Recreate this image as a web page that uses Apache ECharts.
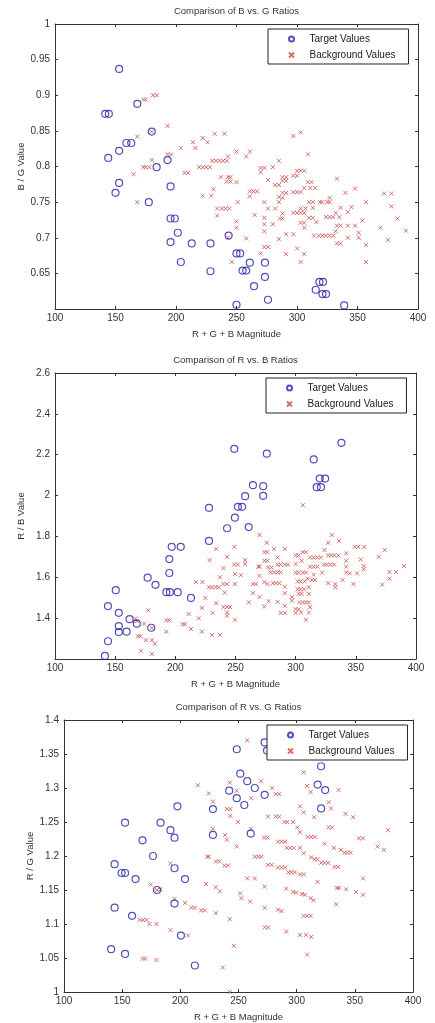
<!DOCTYPE html>
<html>
<head>
<meta charset="utf-8">
<title>Comparison of colour ratios</title>
<script src="https://cdn.jsdelivr.net/npm/echarts@6.0.0/dist/echarts.min.js"></script>
<style>
  html, body { margin: 0; padding: 0; background: #fff; }
  #chart { width: 435px; height: 1023px; }
</style>
</head>
<body>
<div id="chart"></div>
<script>
// x axis (R + G + B magnitude): min, max, step
const magnitudeAxis = [100, 400, 50];
// y axes: min, max, step
const bgAxis = [0.6, 1, 0.05];
const rbAxis = [1.2, 2.6, 0.2];
const rgAxis = [1, 1.4, 0.05];

// B / G ratio  [magnitude, ratio]
const bgTarget = [
  [153, 0.937], [168, 0.888], [141.5, 0.874], [144.5, 0.874], [180, 0.849], [159, 0.833], [163, 0.833],
  [153, 0.822], [144, 0.812], [193, 0.809], [184, 0.799], [153, 0.777], [150, 0.763], [195.5, 0.772],
  [177.5, 0.750], [195.5, 0.727], [199, 0.727], [201.5, 0.707], [195.5, 0.694], [213, 0.692], [228.5, 0.692],
  [243.5, 0.703], [250, 0.678], [253, 0.678], [204, 0.666], [228.5, 0.653], [255, 0.654], [258, 0.654],
  [261, 0.665], [273.5, 0.665], [273.5, 0.645], [264.5, 0.632], [276, 0.613], [250, 0.606], [318.5, 0.638],
  [321.5, 0.638], [315.5, 0.627], [321, 0.621], [324, 0.621], [339, 0.605]
];
const bgBackground = [
  [173, 0.894], [175, 0.894], [181, 0.900], [184, 0.900], [193, 0.857], [168, 0.842], [180, 0.849],
  [204, 0.826], [214, 0.834], [216, 0.826], [222, 0.840], [226, 0.834], [232, 0.846], [240, 0.846],
  [250, 0.821], [258, 0.814], [261, 0.821], [180, 0.809], [193, 0.817], [196, 0.817],
  [173, 0.799], [175, 0.799], [178, 0.799], [165, 0.789], [168, 0.750], [207, 0.791], [210, 0.791],
  [219, 0.799], [222, 0.799], [225, 0.799], [228, 0.799], [230, 0.808], [233, 0.808], [236, 0.808],
  [239, 0.808], [242, 0.808], [243, 0.814], [237, 0.785], [243, 0.785], [245, 0.785], [242, 0.779],
  [245, 0.779], [250, 0.778], [231, 0.768], [222, 0.759], [229, 0.759], [234, 0.741], [238, 0.741],
  [241, 0.741], [244, 0.741], [234, 0.731], [251, 0.750], [250, 0.723], [250, 0.714], [243, 0.700],
  [246, 0.666], [265, 0.732], [258, 0.699], [270, 0.798], [273, 0.798], [270, 0.792], [280, 0.799],
  [285, 0.808], [276, 0.781], [282, 0.774], [285, 0.774], [288, 0.785], [291, 0.785], [288, 0.780],
  [291, 0.780], [297, 0.843], [303, 0.848], [309, 0.817], [297, 0.787], [300, 0.787], [300, 0.794],
  [303, 0.794], [306, 0.794], [297, 0.764], [300, 0.764], [303, 0.764], [306, 0.770], [309, 0.778],
  [312, 0.778], [311, 0.770], [315, 0.770], [333, 0.783], [261, 0.765], [264, 0.765], [267, 0.765],
  [261, 0.758], [273, 0.750], [276, 0.741], [285, 0.750], [285, 0.757], [282, 0.741], [288, 0.763],
  [291, 0.763], [288, 0.756], [288, 0.734], [286, 0.727], [288, 0.727], [297, 0.735], [300, 0.735],
  [303, 0.735], [306, 0.735], [303, 0.741], [307, 0.741], [310, 0.750], [313, 0.750], [319, 0.750],
  [321, 0.750], [325, 0.750], [327, 0.750], [327, 0.756], [313, 0.742], [310, 0.728], [313, 0.728],
  [303, 0.721], [306, 0.721], [306, 0.714], [316, 0.722], [324, 0.729], [327, 0.729], [330, 0.729],
  [332, 0.735], [335, 0.729], [333, 0.717], [336, 0.717], [342, 0.717], [348, 0.717], [336, 0.742],
  [340, 0.763], [348, 0.769], [342, 0.736], [345, 0.743], [357, 0.750], [354, 0.724], [351, 0.707],
  [351, 0.700], [357, 0.690], [357, 0.666], [314, 0.703], [318, 0.703], [321, 0.703], [324, 0.703],
  [327, 0.703], [330, 0.703], [332, 0.709], [333, 0.692], [336, 0.692], [342, 0.700], [372, 0.762],
  [378, 0.762], [378, 0.744], [383, 0.727], [390, 0.710], [369, 0.714], [375, 0.697], [297, 0.705],
  [291, 0.705], [285, 0.698], [291, 0.677], [306, 0.677], [303, 0.666], [300, 0.685], [273, 0.719],
  [273, 0.709], [270, 0.678], [273, 0.687], [276, 0.687], [280, 0.719], [273, 0.728]
];

// R / B ratio
const rbTarget = [
  [249, 2.229], [276, 2.205], [315, 2.177], [338, 2.258], [320, 2.083], [324.5, 2.083], [317.5, 2.041],
  [321, 2.041], [264.5, 2.051], [273, 2.046], [273, 1.999], [258, 1.997], [252, 1.945], [255.5, 1.945],
  [228, 1.940], [249.5, 1.892], [243, 1.840], [261, 1.846], [228, 1.778], [197, 1.749], [204.5, 1.749],
  [195, 1.689], [195, 1.621], [177, 1.598], [183.5, 1.563], [192.5, 1.527], [195.5, 1.527], [202, 1.527],
  [213, 1.499], [150.5, 1.537], [144, 1.459], [153, 1.426], [162, 1.395], [168, 1.373], [153, 1.361],
  [153, 1.332], [159.5, 1.334], [180, 1.353], [144, 1.287], [141.5, 1.215]
];
const rbBackground = [
  [306, 1.953], [270, 1.807], [276, 1.769], [234, 1.739], [249, 1.749], [330, 1.807], [336, 1.778],
  [327, 1.769], [324, 1.733], [349, 1.749], [352, 1.749], [357, 1.749], [374, 1.733], [369, 1.700],
  [228.5, 1.684], [243, 1.700], [258, 1.684], [249, 1.662], [252, 1.662], [240, 1.645], [258, 1.665],
  [269, 1.652], [274, 1.681], [276.5, 1.681], [274, 1.723], [276.5, 1.723], [282, 1.739], [291, 1.739],
  [285, 1.697], [285, 1.662], [287.5, 1.662], [291, 1.662], [293.5, 1.662], [277, 1.648], [280, 1.648],
  [279, 1.624], [282, 1.624], [285, 1.624], [287.5, 1.624], [300, 1.707], [302.5, 1.707], [300, 1.665],
  [306, 1.723], [308.5, 1.723], [305, 1.681], [312, 1.697], [315, 1.697], [318, 1.697], [321, 1.697],
  [327, 1.707], [329.5, 1.707], [332, 1.707], [335.5, 1.707], [312, 1.652], [315, 1.652], [318, 1.652],
  [323.5, 1.662], [326, 1.662], [329, 1.662], [332, 1.662], [322, 1.623], [315, 1.613], [313.5, 1.587],
  [316, 1.587], [300, 1.623], [302.5, 1.623], [306, 1.623], [308.5, 1.623], [301.5, 1.580], [304, 1.580],
  [307.5, 1.580], [301.5, 1.541], [304, 1.541], [307, 1.541], [302.5, 1.519], [305, 1.519], [310, 1.593],
  [311, 1.551], [311, 1.519], [342, 1.717], [342, 1.681], [342, 1.652], [342, 1.624], [345, 1.619],
  [351, 1.619], [354, 1.687], [356.5, 1.655], [356.5, 1.639], [339, 1.587], [348, 1.567], [333, 1.567],
  [333, 1.551], [327, 1.571], [378, 1.626], [383.5, 1.626], [390, 1.655], [378, 1.593], [372, 1.564],
  [281, 1.571], [283.5, 1.571], [286.5, 1.571], [274, 1.577], [291, 1.522], [291, 1.554], [285, 1.480],
  [291, 1.460], [287.5, 1.425], [291, 1.425], [297, 1.503], [297, 1.486], [300, 1.444], [302.5, 1.444],
  [303, 1.477], [306, 1.477], [308.5, 1.477], [311, 1.477], [300, 1.425], [304.5, 1.428], [308.5, 1.392],
  [311, 1.428], [312, 1.454], [270, 1.652], [270, 1.607], [264.5, 1.567], [267, 1.567], [264.5, 1.522],
  [261, 1.477], [270, 1.503], [274, 1.457], [276.5, 1.567], [277.5, 1.483], [249.5, 1.616], [249.5, 1.567],
  [240, 1.567], [243, 1.567], [228, 1.551], [230.5, 1.551], [233.5, 1.551], [236, 1.551], [237, 1.600],
  [241, 1.525], [254.5, 1.610], [217, 1.577], [222.5, 1.577], [225, 1.499], [222, 1.450], [234, 1.473],
  [231, 1.425], [240, 1.454], [243, 1.454], [245.5, 1.454], [243, 1.428], [243, 1.412], [249.5, 1.392],
  [219.5, 1.399], [211, 1.420], [206, 1.370], [208, 1.370], [213, 1.347], [222, 1.334], [230.5, 1.318],
  [237, 1.318], [192.5, 1.389], [195, 1.389], [192.5, 1.334], [177.5, 1.438], [174, 1.373], [167, 1.398],
  [168, 1.386], [169, 1.311], [171, 1.311], [175.5, 1.292], [180.5, 1.292], [183, 1.275], [171.5, 1.240],
  [180.5, 1.224], [180.5, 1.353]
];

// R / G ratio
const rgTarget = [
  [248.5, 1.357], [272.5, 1.367], [274.5, 1.355], [321, 1.332], [251.5, 1.321], [257.5, 1.310],
  [264, 1.300], [242, 1.296], [248.5, 1.285], [255, 1.275], [272.5, 1.290], [318, 1.305], [324.5, 1.297],
  [321, 1.270], [197.5, 1.273], [228, 1.269], [228, 1.231], [260.5, 1.233], [152.5, 1.249], [183, 1.249],
  [191.5, 1.238], [195, 1.227], [167.5, 1.223], [176.5, 1.200], [143.5, 1.188], [149.5, 1.175], [152.5, 1.175],
  [161.5, 1.166], [195, 1.182], [204, 1.166], [180, 1.150], [195, 1.130], [143.5, 1.124], [158.5, 1.112],
  [200.5, 1.083], [140.5, 1.063], [152.5, 1.056], [212.5, 1.039]
];
const rgBackground = [
  [257.5, 1.370], [215, 1.304], [224.5, 1.292], [228, 1.280], [242.5, 1.308], [248.5, 1.296], [261, 1.285],
  [269.5, 1.310], [279, 1.300], [282, 1.291], [285, 1.291], [306, 1.323], [309, 1.303], [312, 1.294],
  [336, 1.297], [327.5, 1.279], [329.5, 1.270], [303, 1.273], [306, 1.264], [315, 1.257], [327.5, 1.242],
  [330.5, 1.242], [342, 1.262], [348.5, 1.257], [353.5, 1.226], [357, 1.226], [378.5, 1.238], [369.5, 1.214],
  [375, 1.209], [240, 1.269], [243, 1.269], [243, 1.259], [249.5, 1.250], [228, 1.240], [238.5, 1.231],
  [240, 1.224], [248.5, 1.214], [260.5, 1.240], [272, 1.227], [275, 1.227], [275.5, 1.258], [282, 1.258],
  [285, 1.258], [289.5, 1.250], [292, 1.250], [297, 1.250], [300.5, 1.242], [303, 1.235], [284, 1.221],
  [287, 1.221], [290, 1.221], [291.5, 1.212], [294.5, 1.212], [297.5, 1.212], [303, 1.212], [306, 1.204],
  [309.5, 1.228], [312.5, 1.228], [315.5, 1.228], [324, 1.218], [332, 1.212], [338, 1.209], [341, 1.205],
  [343.5, 1.205], [346.5, 1.205], [312.5, 1.198], [315.5, 1.195], [318, 1.195], [321, 1.190], [324, 1.190],
  [327, 1.190], [332.5, 1.184], [335.5, 1.184], [223, 1.199], [224.5, 1.199], [230.5, 1.192], [233.5, 1.192],
  [238, 1.186], [241, 1.186], [264, 1.199], [267, 1.199], [269.5, 1.199], [275.5, 1.187], [278.5, 1.187],
  [284, 1.183], [287, 1.183], [290, 1.183], [293, 1.176], [295.5, 1.176], [298.5, 1.176], [303, 1.173],
  [306, 1.173], [257.5, 1.167], [264, 1.167], [272.5, 1.155], [291, 1.152], [297, 1.147], [299.5, 1.146],
  [304.5, 1.144], [307, 1.143], [312, 1.138], [314.5, 1.135], [318, 1.162], [334.5, 1.153], [336.5, 1.153],
  [342.5, 1.151], [351, 1.147], [357, 1.143], [357, 1.167], [334, 1.129], [251.5, 1.145], [252.5, 1.138],
  [260, 1.133], [222, 1.159], [230.5, 1.154], [234, 1.148], [204, 1.131], [209.5, 1.124], [212.5, 1.124],
  [218, 1.120], [221, 1.120], [230.5, 1.116], [242.5, 1.107], [246, 1.068], [236.5, 1.036], [242.5, 1.000],
  [272.5, 1.124], [284, 1.121], [287, 1.119], [272.5, 1.095], [275.5, 1.095], [291, 1.089], [303, 1.084],
  [308, 1.084], [312.5, 1.081], [306, 1.112], [309, 1.112], [312, 1.112], [309, 1.055], [174.5, 1.158],
  [183, 1.151], [191.5, 1.189], [195, 1.137], [206.5, 1.083], [165, 1.106], [168, 1.106], [171, 1.106],
  [173.5, 1.100], [179.5, 1.100], [191.5, 1.091], [167.5, 1.049], [170, 1.049], [179.5, 1.047], [180, 1.150]
];

const panels = [
  { title: 'Comparison of B vs. G Ratios', yName: 'B / G Value', axis: bgAxis, target: bgTarget, background: bgBackground,
    grid: { left: 55, top: 24, width: 363, height: 285 }, legend: { left: 268, top: 29 }, hideMin: true },
  { title: 'Comparison of R vs. B Ratios', yName: 'R / B Value', axis: rbAxis, target: rbTarget, background: rbBackground,
    grid: { left: 55, top: 373, width: 361, height: 286 }, legend: { left: 266, top: 378 }, hideMin: true },
  { title: 'Comparison of R vs. G Ratios', yName: 'R / G Value', axis: rgAxis, target: rgTarget, background: rgBackground,
    grid: { left: 64, top: 720, width: 349, height: 272 }, legend: { left: 267, top: 725 }, hideMin: false }
];

const FONT = 'Liberation Sans, Arial, sans-serif';
const INK = '#333';
const BLUE = '#2424a8';
const RED = '#cc4a4a';

const chart = echarts.init(document.getElementById('chart'));

const titles = [], grids = [], xAxes = [], yAxes = [], legends = [], series = [];
const mirrorX = [], mirrorY = [];

panels.forEach((p, i) => {
  titles.push({
    text: p.title,
    left: p.grid.left + p.grid.width / 2,
    top: p.grid.top - 18,
    textAlign: 'center',
    padding: 0,
    textStyle: { fontSize: 9.5, fontWeight: 'normal', color: INK, fontFamily: FONT }
  });
  grids.push(Object.assign({ containLabel: false }, p.grid));

  const line = { show: true, onZero: false, lineStyle: { color: INK, width: 1 } };
  const tick = { show: true, inside: true, length: 3, lineStyle: { color: INK } };

  xAxes.push({
    type: 'value', gridIndex: i, position: 'bottom',
    min: magnitudeAxis[0], max: magnitudeAxis[1], interval: magnitudeAxis[2],
    name: 'R + G + B Magnitude', nameLocation: 'middle', nameGap: 20, nameMoveOverlap: false,
    nameTextStyle: { fontSize: 9.5, color: INK, fontFamily: FONT },
    axisLine: line, axisTick: tick, splitLine: { show: false },
    axisLabel: { fontSize: 10, color: INK, margin: 4, fontFamily: FONT }
  });
  mirrorX.push({
    type: 'value', gridIndex: i, position: 'top',
    min: magnitudeAxis[0], max: magnitudeAxis[1], interval: magnitudeAxis[2],
    axisLine: line, axisTick: tick, axisLabel: { show: false }, splitLine: { show: false }
  });
  yAxes.push({
    type: 'value', gridIndex: i, position: 'left',
    min: p.axis[0], max: p.axis[1], interval: p.axis[2],
    name: p.yName, nameLocation: 'middle', nameGap: 29, nameMoveOverlap: false,
    nameTextStyle: { fontSize: 9.5, color: INK, fontFamily: FONT },
    axisLine: line, axisTick: tick, splitLine: { show: false },
    axisLabel: { fontSize: 10, color: INK, margin: 5, fontFamily: FONT, showMinLabel: !p.hideMin }
  });
  mirrorY.push({
    type: 'value', gridIndex: i, position: 'right',
    min: p.axis[0], max: p.axis[1], interval: p.axis[2],
    axisLine: line, axisTick: tick, axisLabel: { show: false }, splitLine: { show: false }
  });

  legends.push({
    orient: 'vertical',
    left: p.legend.left, top: p.legend.top,
    padding: [5, 13, 4, 20],
    itemGap: 6, itemWidth: 26, itemHeight: 5,
    borderColor: '#222', borderWidth: 1, backgroundColor: '#fff',
    selectedMode: false,
    textStyle: { fontSize: 10, color: '#222', fontFamily: FONT },
    data: ['Target Values', 'Background Values']
  });

  series.push({
    name: 'Target Values', type: 'scatter', xAxisIndex: i, yAxisIndex: i,
    data: p.target, symbol: 'circle', symbolSize: 7,
    itemStyle: { color: 'rgba(0,0,0,0)', borderColor: BLUE, borderWidth: 1.2 },
    emphasis: { disabled: true }, z: 3
  });
  series.push({
    name: 'Background Values', type: 'scatter', xAxisIndex: i, yAxisIndex: i,
    data: p.background, symbol: 'path://M0,0L10,10M10,0L0,10', symbolSize: 4,
    itemStyle: { color: 'rgba(0,0,0,0)', borderColor: RED, borderWidth: 1 },
    emphasis: { disabled: true }, z: 2
  });
});

chart.setOption({
  animation: false,
  backgroundColor: '#fff',
  title: titles,
  grid: grids,
  legend: legends,
  xAxis: xAxes.concat(mirrorX),
  yAxis: yAxes.concat(mirrorY),
  series: series
});
</script>
</body>
</html>
